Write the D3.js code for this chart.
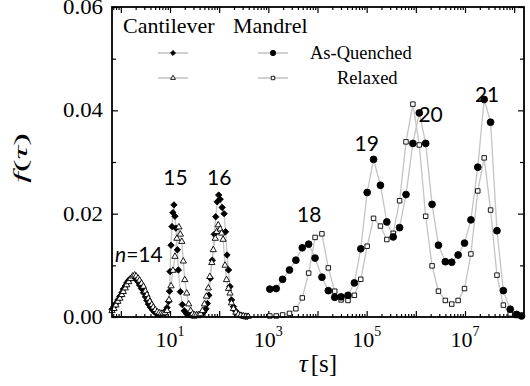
<!DOCTYPE html>
<html>
<head>
<meta charset="utf-8">
<script src="https://cdn.jsdelivr.net/npm/d3@7"></script>
<style>
body { margin: 0; background: #fff; }
</style>
</head>
<body>
<div id="chart"></div>
<script>
// log10(tau) and f(tau)

// Cantilever, as-quenched (diamonds)
var cantQLog = [-0.18,-0.14,-0.10,-0.06,-0.02,0.02,0.05,0.09,0.12,0.16,0.20,0.24,0.27,0.31,0.35,0.38,0.42,0.46,0.50,0.53,0.56,0.60,0.64,0.68,0.72,0.76,0.80,0.84,0.88,
    0.91,0.94,0.97,0.99,1.00,1.02,1.04,1.06,1.08,1.10,1.12,1.15,1.17,1.21,1.25,1.29,1.33,1.37,1.41,1.45,1.49,1.53,1.57,1.61,1.65,
    1.69,1.73,1.76,1.79,1.82,1.86,1.90,1.93,1.96,1.99,2.02,2.06,2.10,2.13,2.16,2.19,2.22,2.25,2.29,2.33,2.37,2.41,2.45,2.49,2.53,2.57]
var cantQ = [0.0015,0.0020,0.0026,0.0033,0.0040,0.0047,0.0054,0.0060,0.0066,0.0071,0.0075,0.0077,0.0076,0.0073,0.0068,0.0062,0.0055,0.0047,0.0039,0.0032,0.0025,0.0019,0.0014,0.0010,0.0007,0.0005,0.0005,0.0006,0.0008,
    0.0012,0.0018,0.0030,0.0050,0.0088,0.0139,0.0175,0.0202,0.0217,0.0195,0.0172,0.0130,0.0091,0.0049,0.0024,0.0012,0.0007,0.0005,0.0004,0.0003,0.0003,0.0003,0.0004,0.0004,0.0006,
    0.0010,0.0016,0.0026,0.0042,0.0075,0.0110,0.0160,0.0194,0.0223,0.0236,0.0228,0.0212,0.0200,0.0165,0.0120,0.0091,0.0059,0.0033,0.0020,0.0012,0.0007,0.0004,0.0003,0.0002,0.0001,0.0001]

// Cantilever, relaxed (triangles)
var cantRLog = [-0.18,-0.14,-0.10,-0.06,-0.02,0.02,0.05,0.09,0.12,0.16,0.20,0.24,0.28,0.31,0.35,0.38,0.42,0.46,0.50,0.53,0.56,0.59,0.63,0.66,0.70,0.74,0.78,0.82,0.86,0.90,
    0.94,0.98,1.02,1.06,1.10,1.14,1.18,1.21,1.24,1.27,1.30,1.34,1.38,1.42,1.46,1.50,1.54,1.58,1.62,
    1.66,1.70,1.74,1.78,1.81,1.85,1.88,1.92,1.95,1.98,2.02,2.05,2.08,2.12,2.15,2.19,2.22,2.25,2.29,2.34,2.39,2.44,2.49,2.54,2.59]
var cantR = [0.0012,0.0016,0.0023,0.0030,0.0036,0.0043,0.0049,0.0056,0.0062,0.0068,0.0074,0.0079,0.0081,0.0079,0.0075,0.0071,0.0065,0.0059,0.0050,0.0043,0.0036,0.0030,0.0024,0.0019,0.0014,0.0010,0.0008,0.0007,0.0007,0.0008,
    0.0012,0.0033,0.0060,0.0090,0.0117,0.0152,0.0174,0.0160,0.0146,0.0108,0.0072,0.0046,0.0025,0.0012,0.0006,0.0004,0.0004,0.0004,0.0006,
    0.0012,0.0025,0.0040,0.0056,0.0078,0.0105,0.0130,0.0152,0.0165,0.0178,0.0170,0.0162,0.0150,0.0100,0.0072,0.0055,0.0046,0.0027,0.0016,0.0009,0.0005,0.0003,0.0002,0.0001,0.0001]

// Mandrel (circles = as-quenched, squares = relaxed)
var mandLog = [3.03,3.16,3.29,3.43,3.56,3.69,3.82,3.95,4.09,4.22,4.35,4.48,4.62,4.75,4.88,5.01,5.14,5.28,5.41,5.54,
    5.67,5.80,5.94,6.07,6.20,6.33,6.46,6.60,6.73,6.86,6.99,7.12,7.26,7.39,7.52,7.65,7.78,7.92,8.05,8.15]
var mandQ = [0.0054,0.0055,0.0073,0.0091,0.0110,0.0134,0.0141,0.0114,0.0077,0.0051,0.0038,0.0039,0.0042,0.0066,0.0132,0.0241,0.0305,0.0255,0.0184,0.0155,
    0.0173,0.0237,0.0336,0.0395,0.0336,0.0218,0.0139,0.0107,0.0106,0.0120,0.0143,0.0188,0.0290,0.0421,0.0377,0.0167,0.0051,0.0015,0.0005,0.0002]
var mandR = [0.0002,0.0002,0.0004,0.0007,0.0016,0.0037,0.0085,0.0154,0.0161,0.0095,0.0050,0.0033,0.0032,0.0042,0.0073,0.0137,0.0191,0.0176,0.0150,0.0162,
    0.0225,0.0339,0.0412,0.0333,0.0195,0.0099,0.0050,0.0032,0.0025,0.0032,0.0055,0.0122,0.0244,0.0308,0.0207,0.0081,0.0023,0.0006,0.0003,0.0002]

var yTicks = [0, 0.02, 0.04, 0.06]
var yMinor = [0.01, 0.03, 0.05]
var xLabelPowers = [1, 3, 5, 7]
var peakLabels = [["15", 1.11, 0.0255], ["16", 2.0, 0.0255], ["18", 3.83, 0.0184], ["19", 5.0, 0.0322], ["20", 6.3, 0.0377], ["21", 7.45, 0.0417]]

var width = 530, height = 386
var pLeft = 112, pRight = 524, pTop = 7, pBottom = 317

var svg = d3.select("#chart").append("svg")
    .attr("width", width)
    .attr("height", height)

var x = d3.scaleLog().domain([Math.pow(10, -0.18), Math.pow(10, 8.2)]).range([pLeft, pRight])
var y = d3.scaleLinear().domain([0, 0.06]).range([pBottom, pTop])

function pts(logs, vals) {
    return d3.zip(logs, vals).map(function (d) { return [Math.pow(10, d[0]), d[1]] })
}

var decades = d3.range(0, 9).map(function (e) { return Math.pow(10, e) })
var minors = []
d3.range(-1, 9).forEach(function (e) {
    d3.range(2, 10).forEach(function (k) {
        var v = k * Math.pow(10, e)
        if (v > x.domain()[0] && v < x.domain()[1]) minors.push(v)
    })
})

// axes: ticks point inward on all four sides
function styleAxis(g) {
    g.select(".domain").remove()
    g.selectAll("line").attr("stroke", "#000").attr("stroke-width", 1.2)
}
svg.append("g").attr("transform", "translate(0," + pBottom + ")")
    .call(d3.axisBottom(x).tickValues(decades).tickSizeInner(-6).tickSizeOuter(0).tickFormat("")).call(styleAxis)
svg.append("g").attr("transform", "translate(0," + pBottom + ")")
    .call(d3.axisBottom(x).tickValues(minors).tickSizeInner(-3).tickSizeOuter(0).tickFormat("")).call(styleAxis)
svg.append("g").attr("transform", "translate(0," + pTop + ")")
    .call(d3.axisTop(x).tickValues(decades).tickSizeInner(-6).tickSizeOuter(0).tickFormat("")).call(styleAxis)
svg.append("g").attr("transform", "translate(0," + pTop + ")")
    .call(d3.axisTop(x).tickValues(minors).tickSizeInner(-3).tickSizeOuter(0).tickFormat("")).call(styleAxis)

var yAxis = svg.append("g").attr("transform", "translate(" + pLeft + ",0)")
    .call(d3.axisLeft(y).tickValues(yTicks).tickSizeInner(-6).tickSizeOuter(0).tickPadding(9).tickFormat(d3.format(".2f")))
    .call(styleAxis)
yAxis.selectAll("text")
    .attr("font-family", "Liberation Serif")
    .attr("font-size", 20)
    .attr("fill", "#000")
    .attr("textLength", 40)
    .attr("lengthAdjust", "spacingAndGlyphs")
svg.append("g").attr("transform", "translate(" + pLeft + ",0)")
    .call(d3.axisLeft(y).tickValues(yMinor).tickSizeInner(-4).tickSizeOuter(0).tickFormat("")).call(styleAxis)
svg.append("g").attr("transform", "translate(" + pRight + ",0)")
    .call(d3.axisRight(y).tickValues(yTicks).tickSizeInner(-6).tickSizeOuter(0).tickFormat("")).call(styleAxis)
svg.append("g").attr("transform", "translate(" + pRight + ",0)")
    .call(d3.axisRight(y).tickValues(yMinor).tickSizeInner(-4).tickSizeOuter(0).tickFormat("")).call(styleAxis)

// x tick labels 10^n
xLabelPowers.forEach(function (p) {
    var t = svg.append("text")
        .attr("x", x(Math.pow(10, p)))
        .attr("y", 347)
        .attr("text-anchor", "middle")
        .attr("font-family", "Liberation Serif")
        .attr("font-size", 22)
    t.append("tspan").text("10")
    t.append("tspan").attr("dy", -11).attr("font-size", 14).text(p)
})

// series
var line = d3.line()
    .x(function (d) { return x(d[0]) })
    .y(function (d) { return y(d[1]) })

var series = [
    { data: pts(cantQLog, cantQ), sym: d3.symbolDiamond2, size: 26, fill: "#000" },
    { data: pts(cantRLog, cantR), sym: d3.symbolTriangle, size: 17, fill: "#fff" },
    { data: pts(mandLog, mandR), sym: d3.symbolSquare, size: 20, fill: "#fff" },
    { data: pts(mandLog, mandQ), sym: d3.symbolCircle, size: 36, fill: "#000" }
]

series.forEach(function (s) {
    svg.append("path")
        .datum(s.data)
        .attr("d", line)
        .attr("fill", "none")
        .attr("stroke", "#c4c4c4")
        .attr("stroke-width", 1.3)
})
series.forEach(function (s) {
    svg.append("g")
        .selectAll("path")
        .data(s.data)
        .join("path")
        .attr("transform", function (d) { return "translate(" + x(d[0]) + "," + y(d[1]) + ")" })
        .attr("d", d3.symbol().type(s.sym).size(s.size))
        .attr("fill", s.fill)
        .attr("stroke", "#000")
        .attr("stroke-width", 0.9)
})

// frame
svg.append("rect")
    .attr("x", pLeft).attr("y", pTop)
    .attr("width", pRight - pLeft).attr("height", pBottom - pTop)
    .attr("fill", "none")
    .attr("stroke", "#000")
    .attr("stroke-width", 1.8)

// peak labels
svg.selectAll(".peak")
    .data(peakLabels)
    .join("text")
    .attr("class", "peak")
    .attr("x", function (d) { return x(Math.pow(10, d[1])) })
    .attr("y", function (d) { return y(d[2]) })
    .attr("text-anchor", "middle")
    .attr("font-family", "Lato")
    .attr("font-size", 21)
    .text(function (d) { return d[0] })

var n14 = svg.append("text")
    .attr("x", 115).attr("y", y(0.0107))
    .attr("font-family", "Lato")
    .attr("font-size", 21)
n14.append("tspan").attr("font-style", "italic").text("n")
n14.append("tspan").text("=14")

// legend
var legend = svg.append("g").attr("font-family", "Liberation Serif")
legend.append("text").attr("x", 123).attr("y", 33).attr("font-size", 22).text("Cantilever")
legend.append("text").attr("x", 233).attr("y", 33).attr("font-size", 22).text("Mandrel")

var legRows = [
    { y: 53, label: "As-Quenched", lx: 310, syms: [[173, d3.symbolDiamond2, 16, "#000"], [273, d3.symbolCircle, 22, "#000"]] },
    { y: 78, label: "Relaxed", lx: 337, syms: [[173, d3.symbolTriangle, 10, "#fff"], [273, d3.symbolSquare, 12, "#fff"]] }
]
legRows.forEach(function (r) {
    r.syms.forEach(function (s) {
        legend.append("line")
            .attr("x1", s[0] - 15).attr("x2", s[0] + 15)
            .attr("y1", r.y).attr("y2", r.y)
            .attr("stroke", "#b0b0b0").attr("stroke-width", 1.2)
        legend.append("path")
            .attr("transform", "translate(" + s[0] + "," + r.y + ")")
            .attr("d", d3.symbol().type(s[1]).size(s[2]))
            .attr("fill", s[3]).attr("stroke", "#000").attr("stroke-width", 0.9)
    })
    legend.append("text").attr("x", r.lx).attr("y", r.y + 6).attr("font-size", 18.5).text(r.label)
})

// axis titles
var yt = svg.append("text")
    .attr("transform", "translate(27,158) rotate(-90)")
    .attr("text-anchor", "middle")
    .attr("font-family", "Liberation Serif")
    .attr("font-size", 19)
    .attr("textLength", 50)
    .attr("lengthAdjust", "spacingAndGlyphs")
yt.append("tspan").attr("font-style", "italic").text("f")
yt.append("tspan").text("(")
yt.append("tspan").attr("font-style", "italic").text("τ")
yt.append("tspan").text(")")

var xt = svg.append("text")
    .attr("x", 318).attr("y", 372)
    .attr("text-anchor", "middle")
    .attr("font-family", "Liberation Serif")
    .attr("font-size", 25)
xt.append("tspan").attr("font-style", "italic").text("τ")
xt.append("tspan").attr("dx", 3).text("[s]")
</script>
</body>
</html>
